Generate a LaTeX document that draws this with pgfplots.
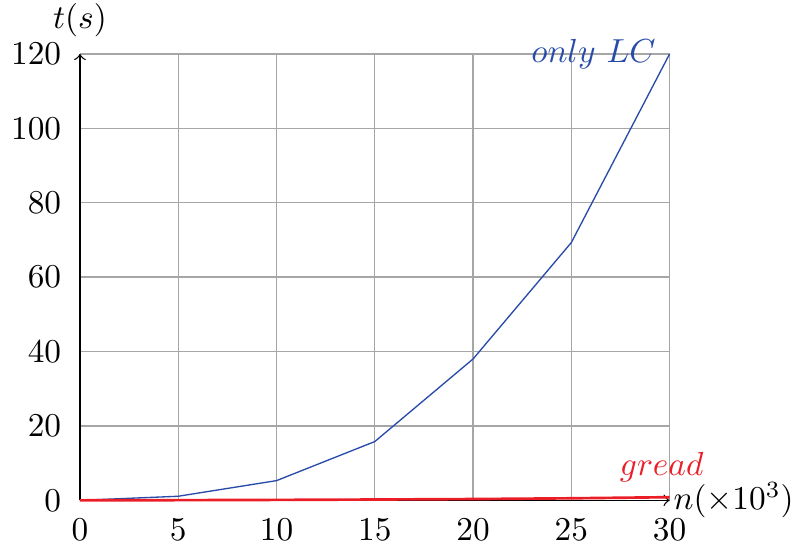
\documentclass[border=0pt]{standalone}
\usepackage{pgfplots}
\pgfplotsset{compat=1.18}
\definecolor{lcblue}{RGB}{40,75,170}
\definecolor{gred}{RGB}{235,30,40}
\begin{document}
\begin{tikzpicture}
\begin{axis}[
  scale only axis,
  width=177pt, height=134pt,
  axis lines=left,
  axis line style={->, thin},
  xmin=0, xmax=30, ymin=0, ymax=120,
  xtick={0,5,...,30}, ytick={0,20,...,120},
  grid=major,
  major grid style={black!35, thin},
  tick style={draw=none},
  xlabel={$n(\times 10^3)$},
  ylabel={$t(s)$},
  every axis x label/.style={at={(rel axis cs:1,0)}, anchor=west, inner sep=1pt},
  every axis y label/.style={at={(rel axis cs:0,1)}, anchor=south, yshift=4pt, inner sep=1pt},
  clip=false,
]
\addplot[lcblue, line width=0.4pt] coordinates {(0,0) (5,1.1) (10,5.3) (15,15.8) (20,38) (25,69.3) (30,120)};
\addplot[gred, line width=0.8pt] coordinates {(0,0) (5,0.05) (10,0.12) (15,0.22) (20,0.35) (25,0.55) (30,0.85)};
\node[lcblue, anchor=east, inner sep=1pt, xshift=-3pt] at (axis cs:30,120) {$only\ LC$};
\node[gred, anchor=base] at (axis cs:29.6,6.6) {$gread$};
\end{axis}
\end{tikzpicture}
\end{document}
